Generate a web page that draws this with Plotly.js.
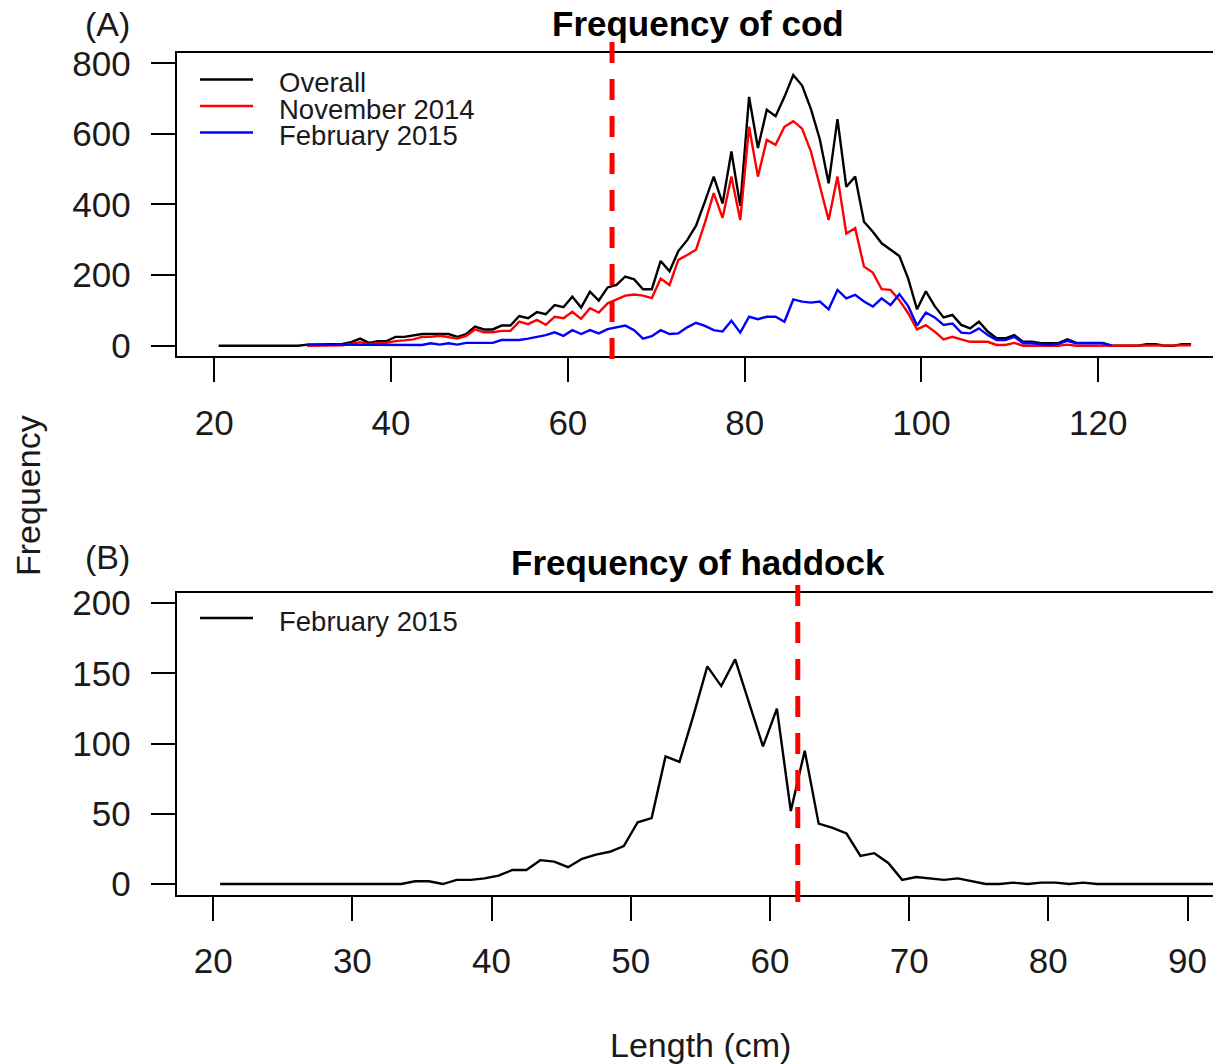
<!DOCTYPE html>
<html>
<head>
<meta charset="utf-8">
<script src="https://cdn.plot.ly/plotly-3.0.1.min.js"></script>
<style>html,body{margin:0;padding:0;background:#fff;}#chart{width:1213px;height:1064px;}</style>
</head>
<body>
<div id="chart"></div>
<script>
// ---------- data ----------
const codLengths = [20.5,21.5,22.5,23.5,24.5,25.5,26.5,27.5,28.5,29.5,
  30.5,31.5,32.5,33.5,34.5,35.5,36.5,37.5,38.5,39.5,
  40.5,41.5,42.5,43.5,44.5,45.5,46.5,47.5,48.5,49.5,
  50.5,51.5,52.5,53.5,54.5,55.5,56.5,57.5,58.5,59.5,
  60.5,61.5,62.5,63.5,64.5,65.5,66.5,67.5,68.5,69.5,
  70.5,71.5,72.5,73.5,74.5,75.5,76.5,77.5,78.5,79.5,
  80.5,81.5,82.5,83.5,84.5,85.5,86.5,87.5,88.5,89.5,
  90.5,91.5,92.5,93.5,94.5,95.5,96.5,97.5,98.5,99.5,
  100.5,101.5,102.5,103.5,104.5,105.5,106.5,107.5,108.5,109.5,
  110.5,111.5,112.5,113.5,114.5,115.5,116.5,117.5,118.5,119.5,
  120.5,121.5,122.5,123.5,124.5,125.5,126.5,127.5,128.5,129.5,130.5];

const codOverall = [0,0,0,0,0,0,0,0,0,0,
  3,3,3,3,5,10,20,8,13,13,
  25,25,28,33,33,33,33,25,33,54,
  46,46,57,57,84,78,95,89,115,109,
  139,108,153,128,165,172,196,188,160,160,
  240,211,268,299,340,408,479,403,550,396,
  705,560,668,650,705,767,737,670,585,460,
  642,450,479,351,323,290,272,254,190,103,
  154,112,80,87,59,49,68,40,21,21,
  30,11,11,7,7,7,18,8,8,8,
  8,0,0,0,0,4,4,0,0,4,4];

const codNov2014 = [null,null,null,null,null,null,null,null,null,null,
  0,0,0,0,1,5,10,4,8,8,
  13,15,18,25,25,28,25,20,28,46,
  38,38,42,42,68,61,73,59,82,78,
  96,76,106,94,120,130,142,145,142,135,
  190,172,243,257,272,348,432,362,479,356,
  620,479,583,569,620,636,615,550,455,356,
  479,318,333,224,207,160,158,129,92,46,
  58,40,18,25,18,11,11,11,2,2,
  8,0,0,0,0,0,3,0,0,0,
  0,0,0,0,0,1,1,0,0,1,1];

const codFeb2015 = [null,null,null,null,null,null,null,null,null,null,
  3,3,3,3,3,2,2,2,2,2,
  2,2,2,2,7,3,7,3,8,8,
  8,8,16,16,16,20,24,30,38,28,
  44,33,44,35,47,52,57,44,20,27,
  44,33,35,52,65,56,44,40,71,37,
  82,75,82,82,68,131,125,122,125,103,
  158,134,144,125,111,134,115,146,112,57,
  94,80,59,63,37,35,49,30,16,16,
  25,7,7,4,2,5,14,7,7,7,
  7,0,null,null,null,null,null,null,null,null,null];

const haddockLengths = [20.5,21.5,22.5,23.5,24.5,25.5,26.5,27.5,28.5,29.5,
  30.5,31.5,32.5,33.5,34.5,35.5,36.5,37.5,38.5,39.5,
  40.5,41.5,42.5,43.5,44.5,45.5,46.5,47.5,48.5,49.5,
  50.5,51.5,52.5,53.5,54.5,55.5,56.5,57.5,58.5,59.5,
  60.5,61.5,62.5,63.5,64.5,65.5,66.5,67.5,68.5,69.5,
  70.5,71.5,72.5,73.5,74.5,75.5,76.5,77.5,78.5,79.5,
  80.5,81.5,82.5,83.5,84.5,85.5,86.5,87.5,88.5,89.5,
  90.5,91.5,92.5];

const haddockFeb2015 = [0,0,0,0,0,0,0,0,0,0,
  0,0,0,0,2,2,0,3,3,4,
  6,10,10,17,16,12,18,21,23,27,
  44,47,91,87,120,155,141,160,129,98,
  125,52,95,43,40,36,20,22,15,3,
  5,4,3,4,2,0,0,1,0,1,
  1,0,1,0,0,0,0,0,0,0,
  0,0,0];

const codCutoff = 65;
const haddockCutoff = 62;

const codTicks = [20,40,60,80,100,120];
const codYTicks = [0,200,400,600,800];
const haddockTicks = [20,30,40,50,60,70,80,90];
const haddockYTicks = [0,50,100,150,200];

const codSeriesNames = ['Overall', 'November 2014', 'February 2015'];
const codSeriesColors = ['#000000', '#ff0000', '#0000ff'];
const haddockSeriesName = 'February 2015';

// ---------- layout helpers (pixel -> paper) ----------
const W = 1213, H = 1064;
const px = v => v / W;
const py = v => 1 - v / H;

const FONT = 'Liberation Sans, Arial, sans-serif';
const TXT = '#1a1a1a';

const axisCommon = {
  ticks: 'outside', ticklen: 24, tickwidth: 2, tickcolor: '#000',
  showline: true, linewidth: 2, linecolor: '#000',
  showgrid: false, zeroline: false,
  tickfont: {family: FONT, size: 35, color: TXT},
  fixedrange: true
};

const codSeries = [codOverall, codNov2014, codFeb2015];
const traces = codSeries.map((ys, i) => ({
  x: codLengths, y: ys, type: 'scatter', mode: 'lines', name: codSeriesNames[i],
  line: {color: codSeriesColors[i], width: 2.4}, xaxis: 'x', yaxis: 'y', showlegend: false
}));
traces.push({x: haddockLengths, y: haddockFeb2015, type: 'scatter', mode: 'lines', name: haddockSeriesName,
  line: {color: '#000000', width: 2.4}, xaxis: 'x2', yaxis: 'y2', showlegend: false});

// legend keys drawn as line + text (R-style compact legend)
const legendShapes = [];
const legendAnns = [];
const codLegendRows = [79.5, 106, 132.5];
codSeriesNames.forEach((nm, i) => {
  legendShapes.push({type: 'line', xref: 'paper', yref: 'paper', x0: px(200), x1: px(253),
    y0: py(codLegendRows[i]), y1: py(codLegendRows[i]), line: {color: codSeriesColors[i], width: 2.4}});
  legendAnns.push({text: nm, x: px(277), y: py(codLegendRows[i] + 3), xref: 'paper', yref: 'paper',
    xanchor: 'left', yanchor: 'middle', showarrow: false, font: {family: FONT, size: 27.5, color: TXT}});
});
legendShapes.push({type: 'line', xref: 'paper', yref: 'paper', x0: px(200), x1: px(253),
  y0: py(618), y1: py(618), line: {color: '#000000', width: 2.4}});
legendAnns.push({text: haddockSeriesName, x: px(277), y: py(621), xref: 'paper', yref: 'paper',
  xanchor: 'left', yanchor: 'middle', showarrow: false, font: {family: FONT, size: 27.5, color: TXT}});

function ann(text, x, y, size, extra) {
  return Object.assign({text: text, x: px(x), y: py(y), xref: 'paper', yref: 'paper',
    xanchor: 'center', yanchor: 'middle', showarrow: false,
    font: {family: FONT, size: size, color: TXT}}, extra || {});
}

const layout = {
  width: W, height: H,
  margin: {l: 0, r: 0, t: 0, b: 0},
  paper_bgcolor: '#ffffff', plot_bgcolor: '#ffffff',
  font: {family: FONT, color: '#000'},
  showlegend: false,
  xaxis: Object.assign({}, axisCommon, {
    domain: [px(176.7), 1], anchor: 'y', range: [15.75, 132.98],
    tickvals: codTicks, mirror: true, ticklabelstandoff: 11
  }),
  yaxis: Object.assign({}, axisCommon, {
    domain: [py(356), py(52.7)], anchor: 'x', range: [-29.2, 830],
    tickvals: codYTicks, ticklabelstandoff: 13
  }),
  xaxis2: Object.assign({}, axisCommon, {
    domain: [px(176.7), 1], anchor: 'y2', range: [17.38, 91.83],
    tickvals: haddockTicks, mirror: true, ticklabelstandoff: 10
  }),
  yaxis2: Object.assign({}, axisCommon, {
    domain: [py(895), py(592.7)], anchor: 'x2', range: [-7.8, 207.5],
    tickvals: haddockYTicks, ticklabelstandoff: 13
  }),
  shapes: [
    {type: 'line', xref: 'x', yref: 'paper', x0: codCutoff, x1: codCutoff,
     y0: py(42), y1: py(362), line: {color: '#ff0000', width: 5, dash: '21px,16px'}},
    {type: 'line', xref: 'x2', yref: 'paper', x0: haddockCutoff, x1: haddockCutoff,
     y0: py(585), y1: py(905), line: {color: '#ff0000', width: 5, dash: '21px,16px'}}
  ].concat(legendShapes),
  annotations: [
    ann('(A)', 107, 24, 34),
    ann('<b>Frequency of cod</b>', 698, 24, 35, {font: {family: FONT, size: 35, color: '#000'}}),
    ann('(B)', 107, 557, 34),
    ann('<b>Frequency of haddock</b>', 698, 562, 35, {font: {family: FONT, size: 35, color: '#000'}}),
    ann('Frequency', 28, 496, 34, {textangle: -90}),
    ann('Length (cm)', 700, 1045, 34)
  ].concat(legendAnns)
};

Plotly.newPlot('chart', traces, layout, {displayModeBar: false, staticPlot: true});
</script>
</body>
</html>
